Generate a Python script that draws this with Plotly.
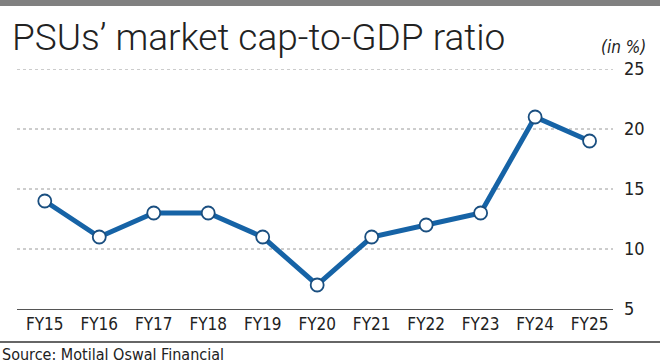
import plotly.graph_objects as go

categories = ["FY15", "FY16", "FY17", "FY18", "FY19", "FY20", "FY21", "FY22", "FY23", "FY24", "FY25"]
values = [14, 11, 13, 13, 11, 7, 11, 12, 13, 21, 19]
y_ticks = [5, 10, 15, 20, 25]

W, H = 660, 364
L, R, T, B = 17, 47, 69, 55
PW, PH = W - L - R, H - T - B

def px_x(p):
    return (p - L) / PW

def px_y(p):
    return (H - B - p) / PH

fig = go.Figure()
fig.add_trace(go.Scatter(
    x=list(range(len(categories))), y=values, mode="lines+markers",
    line=dict(color="#1663a6", width=5),
    marker=dict(size=13, color="white", line=dict(color="#1a4f80", width=1.8)),
    hoverinfo="skip", showlegend=False, cliponaxis=False,
))

font_c = "DejaVu Sans Condensed, Roboto, sans-serif"

grid_shapes = [
    dict(type="line", xref="paper", yref="y", x0=0, x1=1, y0=v, y1=v,
         line=dict(color="#9a9a9a", width=1, dash="dot"), layer="below")
    for v in y_ticks[1:]
]

fig.update_layout(
    width=W, height=H, margin=dict(l=L, r=R, t=T, b=B),
    paper_bgcolor="white", plot_bgcolor="white",
    xaxis=dict(
        range=[-0.51, 10.43], tickmode="array",
        tickvals=list(range(len(categories))), ticktext=categories,
        showgrid=False, zeroline=False, showline=True, linecolor="#555", linewidth=1,
        ticks="", tickfont=dict(family=font_c, size=17, color="#222"),
        fixedrange=True,
    ),
    yaxis=dict(
        range=[5, 25], side="right", tickvals=y_ticks,
        showgrid=False, zeroline=False, showline=False, ticks="",
        tickfont=dict(family=font_c, size=18, color="#222"),
        ticklabelstandoff=10, fixedrange=True,
    ),
    shapes=grid_shapes + [
        dict(type="rect", xref="paper", yref="paper",
             x0=px_x(0), x1=px_x(W), y0=px_y(6), y1=px_y(0),
             fillcolor="#808080", line=dict(width=0), layer="above"),
        dict(type="line", xref="paper", yref="paper",
             x0=px_x(0), x1=px_x(W), y0=px_y(342), y1=px_y(342),
             line=dict(color="#333", width=1.5)),
    ],
    annotations=[
        dict(text="PSUs’ market cap-to-GDP ratio", xref="paper", yref="paper",
             x=px_x(10), y=px_y(37), xanchor="left", yanchor="middle",
             showarrow=False, font=dict(family="Roboto", size=37, color="#222", weight=300)),
        dict(text="<i>(in %)</i>", xref="paper", yref="paper",
             x=px_x(648), y=px_y(47), xanchor="right", yanchor="middle",
             showarrow=False, font=dict(family=font_c, size=17, color="#222")),
        dict(text="Source: Motilal Oswal Financial", xref="paper", yref="paper",
             x=px_x(0), y=px_y(354), xanchor="left", yanchor="middle",
             showarrow=False, font=dict(family=font_c, size=16, color="#222")),
    ],
)

fig.write_html("out.html", config={"displayModeBar": False},
               post_script="document.body.style.margin='0';document.body.style.overflow='hidden';")
